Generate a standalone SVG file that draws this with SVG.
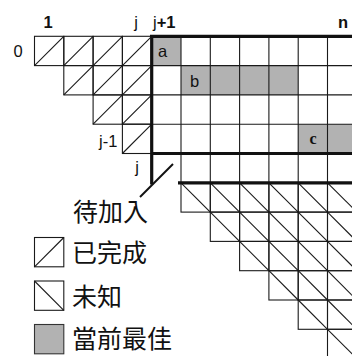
<svg xmlns="http://www.w3.org/2000/svg" xmlns:xlink="http://www.w3.org/1999/xlink" width="352" height="356" viewBox="0 0 352 356">
<style>
.thin{stroke:#1a1a1a;stroke-width:1.1;fill:none}
.thick{stroke:#111;stroke-width:3.2;fill:none}
.gray{fill:#b2b2b2}
.lab{font-family:"Liberation Sans",Arial,sans-serif;font-size:16.5px;fill:#111}
.b{font-weight:bold}
.cjk{font-family:"Noto Sans CJK TC","Noto Sans CJK SC",sans-serif;font-size:25px;fill:#111}
</style>
<defs>
<g id="done"><rect class="thin" x="0" y="0" width="29.3" height="29.3"/><line class="thin" x1="0" y1="29.3" x2="29.3" y2="0"/></g>
<g id="unk"><rect class="thin" x="0" y="0" width="29.3" height="29.3"/><line class="thin" x1="0" y1="0" x2="29.3" y2="29.3"/></g>
</defs>
<rect width="352" height="356" fill="#fff"/>
<g id="completed">
<use xlink:href="#done" x="34.5" y="36.3"/><use xlink:href="#done" x="63.8" y="36.3"/><use xlink:href="#done" x="93.1" y="36.3"/><use xlink:href="#done" x="122.4" y="36.3"/>
<use xlink:href="#done" x="63.8" y="65.6"/><use xlink:href="#done" x="93.1" y="65.6"/><use xlink:href="#done" x="122.4" y="65.6"/>
<use xlink:href="#done" x="93.1" y="94.9"/><use xlink:href="#done" x="122.4" y="94.9"/>
<use xlink:href="#done" x="122.4" y="124.2"/>
</g>
<g id="unknown">
<use xlink:href="#unk" x="181" y="182.8"/><use xlink:href="#unk" x="210.3" y="182.8"/><use xlink:href="#unk" x="239.6" y="182.8"/><use xlink:href="#unk" x="268.9" y="182.8"/><use xlink:href="#unk" x="298.2" y="182.8"/><use xlink:href="#unk" x="327.5" y="182.8"/>
<use xlink:href="#unk" x="210.3" y="212.1"/><use xlink:href="#unk" x="239.6" y="212.1"/><use xlink:href="#unk" x="268.9" y="212.1"/><use xlink:href="#unk" x="298.2" y="212.1"/><use xlink:href="#unk" x="327.5" y="212.1"/>
<use xlink:href="#unk" x="239.6" y="241.4"/><use xlink:href="#unk" x="268.9" y="241.4"/><use xlink:href="#unk" x="298.2" y="241.4"/><use xlink:href="#unk" x="327.5" y="241.4"/>
<use xlink:href="#unk" x="268.9" y="270.7"/><use xlink:href="#unk" x="298.2" y="270.7"/><use xlink:href="#unk" x="327.5" y="270.7"/>
<use xlink:href="#unk" x="298.2" y="300"/><use xlink:href="#unk" x="327.5" y="300"/>
<use xlink:href="#unk" x="327.5" y="329.3"/>
</g>
<g id="pending">
<rect class="gray" x="151.7" y="36.3" width="29.3" height="29.3"/>
<rect class="gray" x="181" y="65.6" width="117.2" height="29.3"/>
<rect class="gray" x="298.2" y="124.2" width="58.6" height="29.3"/>
<path class="thin" d="M181 36.3V182.8M210.3 36.3V182.8M239.6 36.3V182.8M268.9 36.3V182.8M298.2 36.3V182.8M327.5 36.3V182.8M151.7 65.6H352M151.7 94.9H352M151.7 124.2H352"/>
<path class="thick" d="M150 36.3H352M151.7 36.3V184.4M151.7 153.5H352M178 182.8H352"/>
</g>
<g id="connectors">
<line x1="140" y1="197" x2="173" y2="164" stroke="#111" stroke-width="2"/>
</g>
<g id="labels">
<text class="lab b" x="48" y="28" text-anchor="middle">1</text>
<text class="lab" x="136" y="28" text-anchor="middle">j</text>
<text class="lab" x="153" y="28">j<tspan class="b">+1</tspan></text>
<text class="lab b" x="343" y="28" text-anchor="middle">n</text>
<text class="lab" x="18" y="57" text-anchor="middle">0</text>
<text class="lab" x="99" y="147">j-1</text>
<text class="lab" x="137" y="173" text-anchor="middle">j</text>
<text class="lab" x="158" y="57">a</text>
<text class="lab" x="190" y="87">b</text>
<text x="313" y="144" text-anchor="middle" style="font-family:'Liberation Serif',serif;font-weight:bold;font-size:16px;fill:#111">c</text>
</g>
<g id="legend">
<text class="cjk" x="73" y="221">待加入</text>
<use xlink:href="#done" x="34.5" y="237.5"/>
<text class="cjk" x="72" y="262">已完成</text>
<use xlink:href="#unk" x="34.5" y="281"/>
<text class="cjk" x="72" y="306">未知</text>
<rect class="gray" x="34.5" y="324.5" width="29.3" height="29.3" stroke="#333" stroke-width="1.1"/>
<text class="cjk" x="72" y="348">當前最佳</text>
</g>
</svg>
